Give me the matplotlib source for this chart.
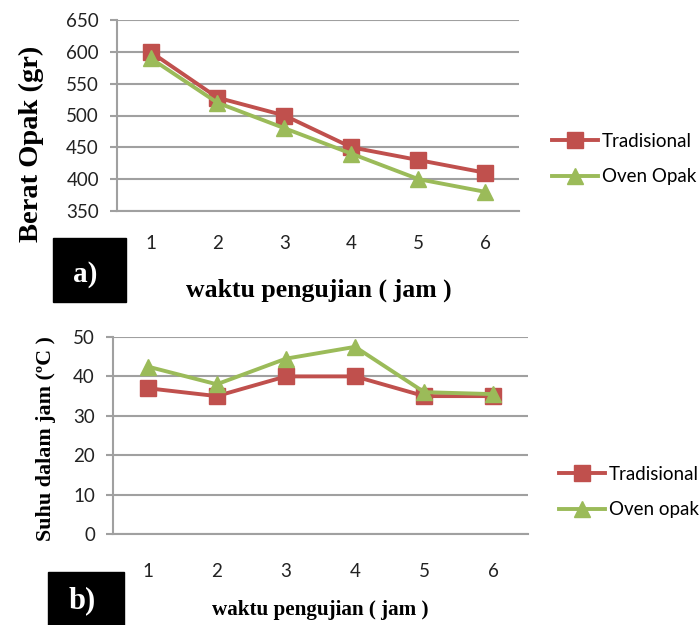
import matplotlib
matplotlib.use("Agg")
import matplotlib.pyplot as plt
from matplotlib.patches import Rectangle

# ---- data ----
hours = [1, 2, 3, 4, 5, 6]
hour_labels = ["1", "2", "3", "4", "5", "6"]
weight_trad = [600, 528, 500, 450, 430, 410]
weight_oven = [590, 520, 480, 440, 400, 380]
temp_trad = [37, 35, 40, 40, 35, 35]
temp_oven = [42.5, 38, 44.5, 47.5, 36, 35.5]
weight_ticks = [350, 400, 450, 500, 550, 600, 650]
temp_ticks = [0, 10, 20, 30, 40, 50]

W, H = 699, 625
fig = plt.figure(figsize=(W / 100, H / 100), dpi=100)
fig.patch.set_facecolor("white")

RED = "#C0504D"
GREEN = "#9BBB59"
GRID = "#A0A0A0"
SANS = "Lato"
SERIF = "Liberation Serif"
TICK_FS = 13.5


def px_axes(l, r, t, b):
    return fig.add_axes([l / W, 1 - b / H, (r - l) / W, (b - t) / H])


def style(ax, yticks, ylim, xpad):
    ax.set_xlim(0.5, 6.5)
    ax.set_ylim(*ylim)
    ax.set_yticks(yticks)
    ax.set_xticks(hours)
    ax.set_xticklabels(hour_labels)
    ax.grid(axis="y", color=GRID, linewidth=1.5)
    ax.set_axisbelow(True)
    for s in ["top", "right"]:
        ax.spines[s].set_visible(False)
    for s in ["left", "bottom"]:
        ax.spines[s].set_color(GRID)
        ax.spines[s].set_linewidth(1.5)
    ax.tick_params(axis="y", length=5, width=1.5, color=GRID, pad=8,
                   labelsize=TICK_FS, labelcolor="#222222")
    ax.tick_params(axis="x", length=0, pad=xpad, labelsize=TICK_FS,
                   labelcolor="#222222")
    for lab in ax.get_xticklabels() + ax.get_yticklabels():
        lab.set_fontfamily(SANS)


def add_legend(ax, x, y):
    ax.legend(loc="center left", bbox_to_anchor=(x / W, 1 - y / H),
              bbox_transform=fig.transFigure, frameon=False,
              borderaxespad=0, borderpad=0,
              handlelength=2.45, handletextpad=0.2, labelspacing=1.0,
              prop={"family": SANS, "size": TICK_FS})


# ---- top chart ----
ax1 = px_axes(117, 519, 20, 211)
ax1.plot(hours, weight_trad, color=RED, lw=2.8, marker="s", ms=11,
         label="Tradisional", zorder=3)
ax1.plot(hours, weight_oven, color=GREEN, lw=2.8, marker="^", ms=11,
         label="Oven Opak", zorder=3)
style(ax1, weight_ticks, (350, 650), 17)
add_legend(ax1, 552, 159)

fig.text(31 / W, 1 - 144 / H, "Berat Opak (gr)", rotation=90, ha="center",
         va="center", fontsize=20.5, fontweight="bold", family=SERIF)
fig.text(319 / W, 1 - 290 / H, "waktu pengujian ( jam )", ha="center",
         va="center", fontsize=18.5, fontweight="bold", family=SERIF)
fig.patches.append(Rectangle((53 / W, 1 - 302 / H), 73 / W, 64 / H,
                             transform=fig.transFigure, color="black",
                             zorder=5))
fig.text(85 / W, 1 - 274 / H, "a)", ha="center", va="center", color="white",
         fontsize=21, fontweight="bold", family=SERIF, zorder=6)

# ---- bottom chart ----
ax2 = px_axes(113, 528, 337, 534)
ax2.plot(hours, temp_trad, color=RED, lw=2.8, marker="s", ms=11,
         label="Tradisional", zorder=3)
ax2.plot(hours, temp_oven, color=GREEN, lw=2.8, marker="^", ms=11,
         label="Oven opak", zorder=3)
style(ax2, temp_ticks, (0, 50), 21)
add_legend(ax2, 559, 492)

fig.text(46 / W, 1 - 439 / H, "Suhu dalam jam (ºC )", rotation=90,
         ha="center", va="center", fontsize=15.8, fontweight="bold",
         family=SERIF)
fig.text(320 / W, 1 - 610 / H, "waktu pengujian ( jam )", ha="center",
         va="center", fontsize=15.2, fontweight="bold", family=SERIF)
fig.patches.append(Rectangle((48 / W, 1 - 625 / H), 76 / W, 53 / H,
                             transform=fig.transFigure, color="black",
                             zorder=5))
fig.text(82 / W, 1 - 601 / H, "b)", ha="center", va="center", color="white",
         fontsize=22, fontweight="bold", family=SERIF, zorder=6)

fig.savefig("out.png", dpi=100, facecolor="white")
